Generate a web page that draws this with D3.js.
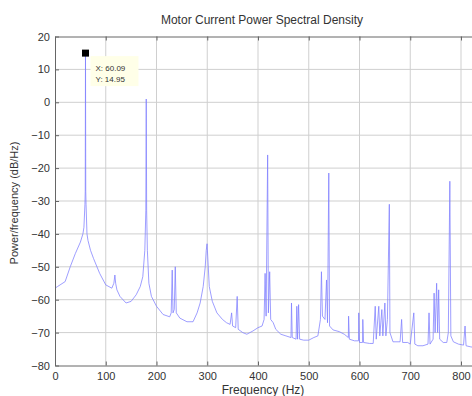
<!DOCTYPE html>
<html><head><meta charset="utf-8">
<script src="https://cdn.jsdelivr.net/npm/d3@7"></script>
<style>body{margin:0;background:#fff}svg{display:block}text{font-family:"Liberation Sans",Arial,sans-serif}</style>
</head><body><svg id="c" width="472" height="396"></svg>
<script>
const title = "Motor Current Power Spectral Density";
const xLabel = "Frequency (Hz)";
const yLabel = "Power/frequency (dB/Hz)";
const xTicks = [0,100,200,300,400,500,600,700,800,900];
const yTicks = [20,10,0,-10,-20,-30,-40,-50,-60,-70,-80];
const tipX = 60.09, tipY = 14.95;
const freq = [0,5,10,20,30,40,50,55,57,59,59.6,60.09,60.6,61.2,63,65,70,76,88,100,112,116,118,119.5,122,128,140,150,160,168,173,177,179,179.8,180.6,182,185,190,200,213,226,229,231,232.5,235,237,239,246,260,272,280,286,292,296,298,299.6,301,304,310,319,330,338,345,348,350,356,359,361,370,378,390,400,408,412,414,416,419,420.5,423,425,430,435,445,455,465,466,467.5,475,476.5,478,480,482,490,500,510,518,523,525,527,532,535,537,539.5,541,548,560,570,578,578.5,580,590,598,598.5,600,606,606.5,608,620,627,631,633,638,640,644,646,650,652,655,658.8,660,666,680,683,685,695,700,707,709,715,725,735,737,739,745,747,749,752,754,756,758,765,772,775,778,780,785,795,805,808,810,818,825];
const psd = [-56.5,-56,-55.5,-54.5,-50,-46,-42.5,-40,-38,-31,-27,14.95,-27,-31,-40,-42,-45,-47.5,-52,-55.5,-56.5,-55,-52.5,-55,-57,-59,-61,-60.5,-58.5,-56,-53,-45,-33,1,-33,-45,-55,-59,-62,-64.5,-65.2,-64,-51,-64,-63,-50,-64,-65.6,-66.7,-66.7,-64,-61,-56,-50,-45,-43,-47,-56,-60.5,-64,-66,-67,-67.5,-64,-68,-68.5,-59,-69,-70,-70.5,-69.5,-68.5,-68,-66,-52,-65,-16,-64,-51.5,-66,-67,-69,-70.5,-71,-71.5,-61,-71.5,-72,-62,-72,-61.5,-72,-72.3,-72.3,-71.5,-71,-66,-51.5,-65,-66,-54,-67,-21.5,-68,-69.2,-69.7,-70.5,-71.5,-65,-72,-72.5,-72.5,-64,-73,-73,-66,-73,-73.3,-73.3,-62,-72,-62,-71,-63,-71,-61,-71,-66,-31,-70,-72.8,-72.8,-66,-73,-73,-73.5,-64,-73.5,-74,-74,-73.5,-64,-73.5,-72,-58,-70,-55,-70,-57,-72,-73,-73,-70,-24,-71,-72.8,-73.5,-73.8,-68,-74,-74.3,-74.5];

const svg = d3.select("#c");
const L = 55, T = 36.5, B = 365.5;
const x = d3.scaleLinear().domain([0,1000]).range([L, L+507.5]);
const y = d3.scaleLinear().domain([-80,20]).range([B, T]);

svg.append("clipPath").attr("id","clip").append("rect").attr("x",L).attr("y",T).attr("width",472-L).attr("height",B-T);

// grid
const g = svg.append("g");
g.selectAll(".vg").data(xTicks.filter(d=>d>0)).join("line")
  .attr("x1",d=>x(d)).attr("x2",d=>x(d)).attr("y1",T).attr("y2",B)
  .attr("stroke","#cfcfcf").attr("stroke-width",1);
g.selectAll(".hg").data(yTicks.filter(d=>d>-80&&d<20)).join("line")
  .attr("x1",L).attr("x2",472).attr("y1",d=>y(d)).attr("y2",d=>y(d))
  .attr("stroke","#cfcfcf").attr("stroke-width",1);

// data line
const pts = freq.map((f,i)=>[f,psd[i]]);
svg.append("path").datum(pts).attr("clip-path","url(#clip)")
  .attr("fill","none").attr("stroke","#7f7fff").attr("stroke-width",0.9).attr("stroke-opacity",0.85)
  .attr("d", d3.line().x(d=>x(d[0])).y(d=>y(d[1])));

// axes
const axB = svg.append("g").attr("transform",`translate(0,${B})`)
  .call(d3.axisBottom(x).tickValues(xTicks).tickSizeInner(-4).tickSizeOuter(0).tickPadding(7));
const axT = svg.append("g").attr("transform",`translate(0,${T})`)
  .call(d3.axisTop(x).tickValues(xTicks).tickSizeInner(-4).tickSizeOuter(0).tickFormat(""));
const axL = svg.append("g").attr("transform",`translate(${L},0)`)
  .call(d3.axisLeft(y).tickValues(yTicks).tickSizeInner(-4).tickSizeOuter(0).tickPadding(5));
[axB,axT,axL].forEach(a=>{
  a.select(".domain").attr("stroke","#666");
  a.selectAll(".tick line").attr("stroke","#666");
  a.selectAll("text").attr("fill","#333").style("font-size","11px").style("font-family","'Liberation Sans',Arial,sans-serif");
});

// datatip
svg.append("rect").attr("x",x(tipX)+5).attr("y",y(tipY)+3).attr("width",48).attr("height",30)
  .attr("fill","#ffffe8");
svg.append("rect").attr("x",x(tipX)-3.5).attr("y",y(tipY)-3.5).attr("width",7).attr("height",7).attr("fill","#000");
svg.append("text").attr("x",x(tipX)+10).attr("y",y(tipY)+18).attr("font-size",8).attr("fill","#333").text("X: "+tipX.toFixed(2));
svg.append("text").attr("x",x(tipX)+10).attr("y",y(tipY)+29).attr("font-size",8).attr("fill","#333").text("Y: "+tipY.toFixed(2));

// labels
svg.append("text").attr("x",262).attr("y",24).attr("text-anchor","middle").attr("font-size",12).attr("fill","#333").text(title);
svg.append("text").attr("x",263).attr("y",394).attr("text-anchor","middle").attr("font-size",12).attr("fill","#333").text(xLabel);
svg.append("text").attr("transform","translate(18,203) rotate(-90)").attr("text-anchor","middle").attr("font-size",11).attr("fill","#333").text(yLabel);
</script></body></html>
